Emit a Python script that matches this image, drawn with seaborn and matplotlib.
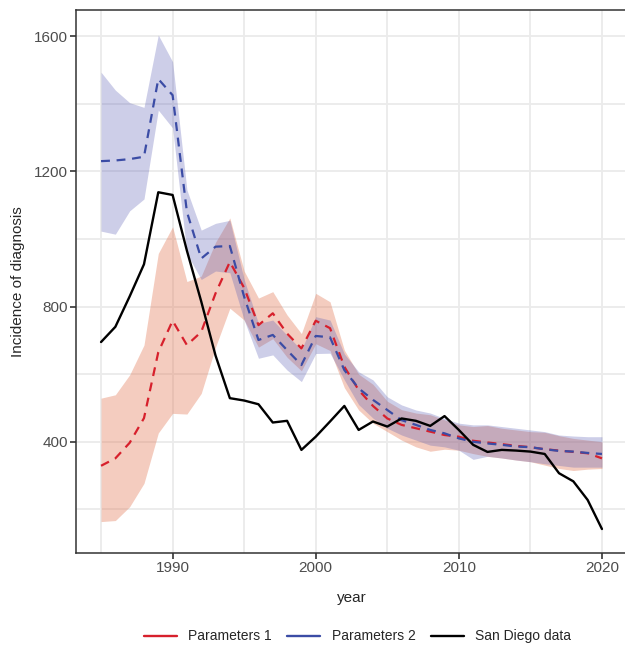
import numpy as np
import pandas as pd
import matplotlib.pyplot as plt
import seaborn as sns
from matplotlib.lines import Line2D

# Valores
years = list(range(1985, 2021))

san_diego = [695, 740, 830, 925, 1138, 1130, 965, 815, 655, 529,
             522, 511, 457, 462, 376, 415, 460, 506, 435, 460,
             445, 469, 462, 447, 476, 435, 391, 370, 376, 374,
             371, 364, 307, 283, 228, 142]

p1_mean = [329, 351, 397, 470, 665, 758, 686, 725, 839, 932,
           855, 745, 780, 720, 676, 758, 736, 622, 553, 506,
           469, 450, 440, 430, 420, 415, 403, 398, 393, 388,
           384, 378, 374, 370, 366, 351]
p1_low = [164, 167, 208, 277, 426, 484, 482, 543, 680, 795,
          760, 680, 705, 650, 610, 690, 670, 560, 494, 455,
          430, 405, 385, 372, 378, 375, 365, 357, 352, 346,
          341, 331, 321, 315, 319, 321]
p1_high = [529, 539, 598, 686, 957, 1036, 874, 890, 990, 1062,
           905, 825, 844, 775, 720, 839, 814, 671, 600, 570,
           520, 495, 485, 480, 465, 450, 445, 448, 440, 435,
           430, 428, 418, 410, 405, 400]

p2_mean = [1230, 1232, 1236, 1243, 1473, 1425, 1080, 942, 977, 979,
           829, 701, 716, 671, 627, 713, 709, 612, 558, 524,
           494, 464, 450, 435, 425, 410, 400, 395, 391, 386,
           384, 378, 373, 371, 367, 364]
p2_low = [1023, 1014, 1083, 1118, 1381, 1328, 957, 880, 905, 900,
          760, 647, 657, 612, 578, 661, 662, 583, 510, 470,
          440, 420, 405, 390, 385, 375, 348, 357, 352, 346,
          341, 335, 330, 325, 325, 325]
p2_high = [1493, 1440, 1403, 1389, 1603, 1524, 1145, 1026, 1046, 1055,
           880, 750, 760, 715, 672, 770, 760, 660, 607, 583,
           533, 509, 494, 485, 469, 455, 450, 450, 445, 440,
           435, 430, 420, 417, 415, 415]

labels = ['Parameters 1', 'Parameters 2', 'San Diego data']
colors = ['#D7202C', '#3B4CA5', '#000000']

df = pd.DataFrame({'year': years, 'sd': san_diego,
                   'p1': p1_mean, 'p2': p2_mean})

sns.set_theme(style="whitegrid")
plt.rcParams['font.family'] = ['Liberation Sans', 'DejaVu Sans']

fig = plt.figure(figsize=(6.25, 6.45), dpi=100)
ax = fig.add_axes([0.1216, 0.1426, 0.8816, 0.8419])

# bandas
ax.fill_between(df['year'], p1_low, p1_high, color='#E4805F', alpha=0.4, lw=0)
ax.fill_between(df['year'], p2_low, p2_high, color='#5A5DB5', alpha=0.3, lw=0)

# lineas
sns.lineplot(data=df, x='year', y='p1', color=colors[0], lw=1.6,
             linestyle=(0, (4, 3)), ax=ax)
sns.lineplot(data=df, x='year', y='p2', color=colors[1], lw=1.6,
             linestyle=(0, (4, 3)), ax=ax)
sns.lineplot(data=df, x='year', y='sd', color=colors[2], lw=1.7, ax=ax)

ax.set_xlim(1983.25, 2021.75)
ax.set_ylim(71, 1677)
ax.set_xticks([1990, 2000, 2010, 2020])
ax.set_xticks([1985, 1995, 2005, 2015], minor=True)
ax.set_yticks([400, 800, 1200, 1600])
ax.set_yticks([200, 600, 1000, 1400], minor=True)
ax.grid(which='both', color='#EBEBEB', lw=1.3)
ax.set_axisbelow(True)

ax.tick_params(which='major', bottom=True, left=True, length=4, width=1.2,
               color='#333333', labelsize=11, labelcolor='#4D4D4D', pad=2)
ax.tick_params(which='minor', length=0)
for s in ax.spines.values():
    s.set_color('#333333')
    s.set_linewidth(1.1)

ax.set_xlabel('year', fontsize=11, labelpad=11)
ax.set_ylabel('Incidence of diagnosis', fontsize=11, labelpad=6)

handles = [Line2D([], [], color=c, lw=1.7) for c in colors]
fig.legend(handles, labels, loc='lower center', bbox_to_anchor=(0.572, -0.017),
           ncol=3, frameon=False, fontsize=10, handlelength=2.4,
           handletextpad=0.8, columnspacing=1.1)

plt.savefig('out.png', dpi=100)
